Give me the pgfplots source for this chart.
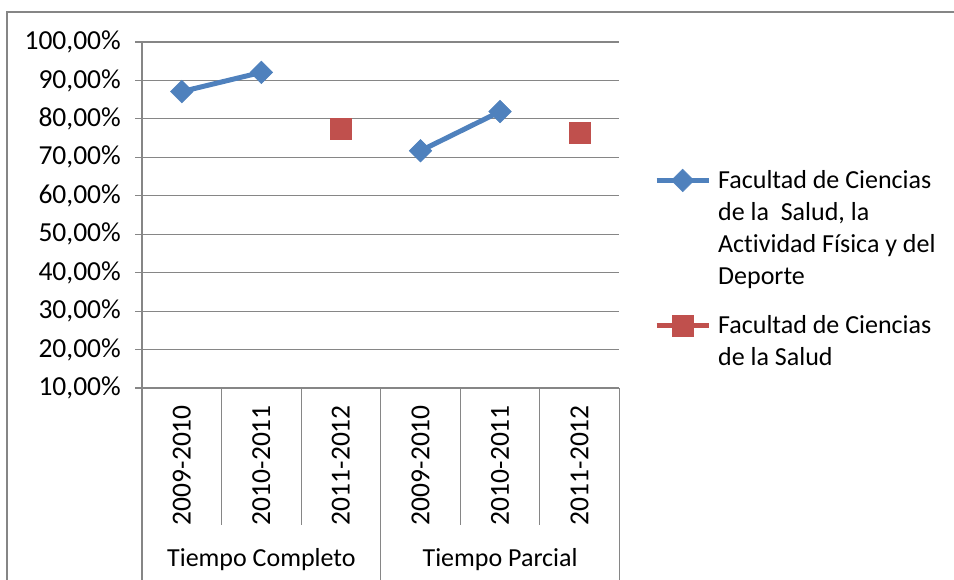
\documentclass[border=0pt]{standalone}
\usepackage{pgfplots}
\pgfplotsset{compat=1.18}
\usepackage{fontspec}
\setmainfont{Carlito}[Ligatures=NoCommon]
\definecolor{sblue}{HTML}{4F81BD}
\definecolor{sred}{HTML}{C0504D}
\definecolor{gridc}{HTML}{868686}
\newcommand\cf{\fontsize{26bp}{32bp}\selectfont}
\newcommand\tf{\fontsize{27.5bp}{32bp}\selectfont}
\pgfplotsset{
  legA/.style={legend image code/.code={
    \draw[##1, mark=none] (0bp,104bp) -- (52bp,104bp);
    \draw[##1, draw=none] plot coordinates {(26bp,104bp)};}},
  legB/.style={legend image code/.code={
    \draw[##1, mark=none] (0bp,40bp) -- (52bp,40bp);
    \draw[##1, draw=none] plot coordinates {(26bp,40bp)};}},
}
\begin{document}
\begin{tikzpicture}[x=1bp,y=1bp]
\useasboundingbox (0,0) rectangle (954,580);
\draw[gridc, line width=2bp] (7,-5) -- (7,568) -- (960,568);
\begin{axis}[
  at={(142bp,192bp)}, anchor=south west,
  scale only axis, width=477.4bp, height=346bp,
  xmin=-0.5, xmax=5.5, ymin=10, ymax=100,
  axis x line*=bottom, axis y line*=left,
  axis line style={gridc, line width=1.2bp},
  xtick={0,1,2,3,4,5},
  xticklabels={2009-2010,2010-2011,2011-2012,2009-2010,2010-2011,2011-2012},
  x tick label style={rotate=90, anchor=east, inner sep=0pt, font=\tf},
  xticklabel shift=10bp,
  ytick={10,20,30,40,50,60,70,80,90,100},
  yticklabels={{10,00\%},{20,00\%},{30,00\%},{40,00\%},{50,00\%},{60,00\%},{70,00\%},{80,00\%},{90,00\%},{100,00\%}},
  y tick label style={inner sep=0pt, font=\tf},
  yticklabel shift=14bp,
  tick align=outside,
  x tick style={draw=none},
  y tick style={gridc, line width=1.2bp},
  major tick length=7bp,
  ymajorgrids, grid style={gridc, line width=1.2bp},
  unbounded coords=jump,
  clip=false,
  legend style={at={(1.0724,0.633)}, anchor=north west, draw=none, fill=none,
    inner sep=0pt, font=\cf, row sep=29bp,
    nodes={inner sep=0pt, align=left, anchor=base west},
    /tikz/every odd column/.style={column sep=7bp}},
]
\addplot[sblue, line width=5bp, mark=square*, mark size=8bp,
  mark options={rotate=45, line width=0.5bp}, legA]
  coordinates {(0,87.1) (1,92.1) (2,nan) (3,71.7) (4,81.9)};
\addlegendentry{Facultad de Ciencias\\de la\ \ Salud, la\\Actividad Física y del\\Deporte}
\addplot[sred, line width=5bp, mark=square*, mark size=10.5bp,
  mark options={line width=0.5bp}, legB]
  coordinates {(0,nan) (1,nan) (2,77.4) (3,nan) (4,nan) (5,76.3)};
\addlegendentry{Facultad de Ciencias\\de la Salud}
\draw[gridc, line width=1.2bp] (axis cs:0.5,10) -- ([yshift=-137bp]axis cs:0.5,10);
\draw[gridc, line width=1.2bp] (axis cs:1.5,10) -- ([yshift=-137bp]axis cs:1.5,10);
\draw[gridc, line width=1.2bp] (axis cs:3.5,10) -- ([yshift=-137bp]axis cs:3.5,10);
\draw[gridc, line width=1.2bp] (axis cs:4.5,10) -- ([yshift=-137bp]axis cs:4.5,10);
\draw[gridc, line width=1.2bp] (axis cs:-0.5,10) -- ([yshift=-195bp]axis cs:-0.5,10);
\draw[gridc, line width=1.2bp] (axis cs:2.5,10) -- ([yshift=-195bp]axis cs:2.5,10);
\draw[gridc, line width=1.2bp] (axis cs:5.5,10) -- ([yshift=-195bp]axis cs:5.5,10);
\end{axis}
\node[anchor=base, font=\cf] at (261.4,13) {Tiempo Completo};
\node[anchor=base, font=\cf] at (500.1,13) {Tiempo Parcial};
\end{tikzpicture}
\end{document}
